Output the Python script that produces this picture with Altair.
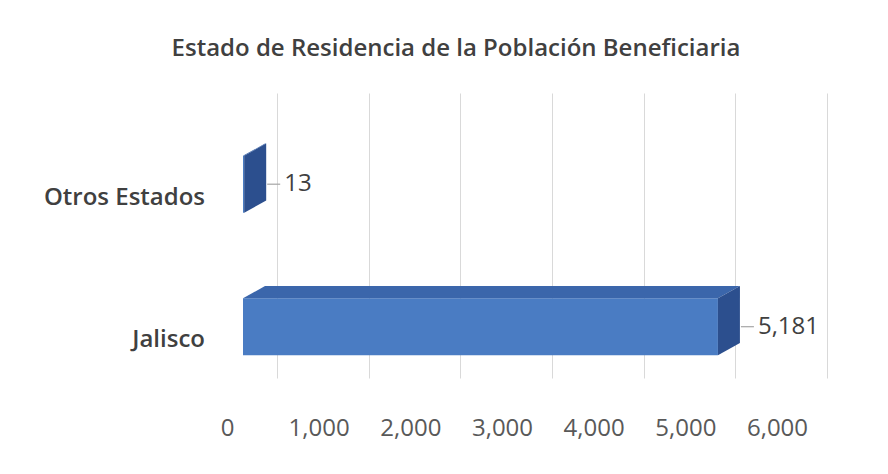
import altair as alt
import pandas as pd

# ---- data ----
categories = ["Jalisco", "Otros Estados"]
values = [5181, 13]
value_labels = ["5,181", "13"]
tick_values = [0, 1000, 2000, 3000, 4000, 5000, 6000]
TITLE = "Estado de Residencia de la Población Beneficiaria"

# ---- style constants ----
W, H = 550, 285
XMAX = 6000
DEPTH_X = 240      # depth of 3-D bar in data units (~22 px)
DEPTH_Y = 0.085    # depth of 3-D bar in band units (~12 px)
FRONT_LO, FRONT_HI = 0.16, 0.56
FONT = "Open Sans"

front_rows, top_rows, side_rows = [], [], []
for i, (c, v, lab) in enumerate(zip(categories, values, value_labels)):
    lo, hi = i + FRONT_LO, i + FRONT_HI
    front_rows.append(dict(cat=c, x0=0, v=v, lo=lo, hi=hi,
                           mid=(lo + hi) / 2, catpos=i + 0.265, lab=lab))
    bps = sorted({0, v, DEPTH_X, v + DEPTH_X})
    for k, xb in enumerate(bps):
        bot = hi + DEPTH_Y * min(max((xb - v) / DEPTH_X, 0), 1)
        top = hi + DEPTH_Y * min(max(xb / DEPTH_X, 0), 1)
        top_rows.append(dict(cat=c, xp=xb, ya=bot, yb=top))
    side_rows.append(dict(cat=c, xp=v, ya=lo, yb=hi))
    side_rows.append(dict(cat=c, xp=v + DEPTH_X, ya=lo + DEPTH_Y, yb=hi + DEPTH_Y))

front = pd.DataFrame(front_rows)
topf = pd.DataFrame(top_rows)
side = pd.DataFrame(side_rows)

xscale = alt.Scale(domain=[0, XMAX], nice=False, zero=True)
yscale = alt.Scale(domain=[0, 2], nice=False, zero=True)

xaxis = alt.Axis(values=tick_values, format=",d", grid=True, gridColor="#d9d9d9",
                 gridWidth=1, domain=False, ticks=False, tickOffset=34,
                 labelOffset=-50, labelPadding=38, labelFont=FONT,
                 labelFontSize=24, labelColor="#595959", labelOverlap=False,
                 labelFlush=False, title=None)

base_front = alt.Chart(front)

front_bar = base_front.mark_rect(color="#4a7cc3").encode(
    x=alt.X("x0:Q", scale=xscale, axis=xaxis),
    x2="v:Q",
    y=alt.Y("lo:Q", scale=yscale, axis=None),
    y2="hi:Q",
)

top_face = alt.Chart(topf).mark_area(color="#3b66ab", opacity=1).encode(
    x=alt.X("xp:Q", scale=xscale),
    y=alt.Y("ya:Q", scale=yscale),
    y2="yb:Q",
    detail="cat:N",
)

side_face = alt.Chart(side).mark_area(color="#2c4f8e", opacity=1).encode(
    x=alt.X("xp:Q", scale=xscale),
    y=alt.Y("ya:Q", scale=yscale),
    y2="yb:Q",
    detail="cat:N",
)

leader = base_front.mark_rule(color="#a6a6a6", strokeWidth=1.2,
                              xOffset=23, x2Offset=36).encode(
    x=alt.X("v:Q", scale=xscale),
    x2="v:Q",
    y=alt.Y("mid:Q", scale=yscale),
)

val_text = base_front.mark_text(align="left", baseline="middle", dx=40,
                                font=FONT, fontSize=24, color="#404040").encode(
    x=alt.X("v:Q", scale=xscale),
    y=alt.Y("mid:Q", scale=yscale),
    text="lab:N",
)

cat_text = base_front.mark_text(align="right", baseline="middle", dx=-38,
                                font=FONT, fontSize=24, fontWeight=600,
                                color="#404040").encode(
    x=alt.X("x0:Q", scale=xscale),
    y=alt.Y("catpos:Q", scale=yscale),
    text="cat:N",
)

chart = alt.layer(front_bar, top_face, side_face, leader, val_text, cat_text).properties(
    width=W, height=H,
    background="white",
    title=alt.TitleParams(TITLE, font=FONT, fontSize=24, fontWeight=600,
                          color="#404040", anchor="middle", dx=-62, offset=32),
    autosize=alt.AutoSizeParams(type="none"),
    padding={"left": 235, "top": 85, "right": 87, "bottom": 80},
).configure_view(strokeWidth=0, stroke="transparent")

chart.save("out.html", embed_options={"renderer": "svg", "actions": False})
